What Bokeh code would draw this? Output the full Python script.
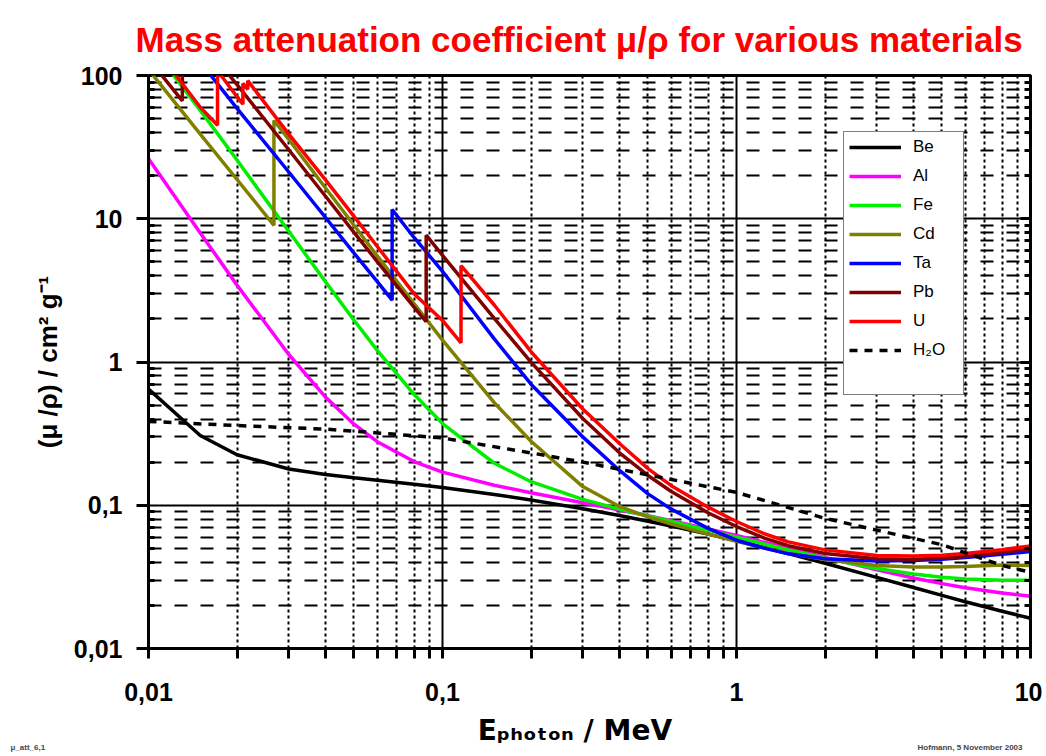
from bokeh.plotting import figure
from bokeh.models import FixedTicker, LogAxis, Legend, LegendItem, Title
from bokeh.embed import file_html
from bokeh.resources import INLINE

# ---------------- data ----------------
energy_grid = [0.01, 0.015, 0.02, 0.03, 0.04, 0.05, 0.06, 0.08, 0.1, 0.15, 0.2, 0.3,
               0.4, 0.5, 0.6, 0.8, 1.0, 1.25, 1.5, 2.0, 3.0, 4.0, 5.0, 6.0, 8.0, 10.0]

mu_be = [0.6466, 0.307, 0.2251, 0.1792, 0.164, 0.1554, 0.1493, 0.1401, 0.1328, 0.119, 0.1089,
         0.09463, 0.08471, 0.07739, 0.07155, 0.06286, 0.05647, 0.05054, 0.04597, 0.03938,
         0.03138, 0.02664, 0.02347, 0.02121, 0.01819, 0.01627]

mu_al = [26.23, 7.955, 3.441, 1.128, 0.5685, 0.3681, 0.2778, 0.2018, 0.1704, 0.1378, 0.1223,
         0.1042, 0.09276, 0.08445, 0.07802, 0.06841, 0.06146, 0.05496, 0.05006, 0.04324,
         0.03541, 0.03106, 0.02836, 0.02655, 0.02437, 0.02318]

mu_fe = [170.6, 57.08, 25.68, 8.176, 3.629, 1.958, 1.205, 0.5952, 0.3717, 0.1964, 0.146,
         0.1099, 0.094, 0.08414, 0.07704, 0.06699, 0.05995, 0.0535, 0.04883, 0.04265,
         0.03621, 0.03312, 0.03146, 0.03057, 0.02991, 0.02994]

energy_cd = [0.01, 0.015, 0.02, 0.02671, 0.02671, 0.03, 0.04, 0.05, 0.06, 0.08, 0.1, 0.15, 0.2,
             0.3, 0.4, 0.5, 0.6, 0.8, 1.0, 1.25, 1.5, 2.0, 3.0, 4.0, 5.0, 6.0, 8.0, 10.0]
mu_cd = [110.0, 39.0, 18.8, 9.0, 48.5, 35.8, 16.4, 9.0, 5.5, 2.56, 1.42, 0.52, 0.28,
         0.135, 0.098, 0.083, 0.074, 0.063, 0.056, 0.0503, 0.0462, 0.0418, 0.038, 0.0371,
         0.037, 0.0373, 0.0382, 0.038]

energy_ta = [0.01, 0.015, 0.02, 0.03, 0.04, 0.05, 0.06, 0.0674, 0.0674, 0.08, 0.1, 0.15, 0.2,
             0.3, 0.4, 0.5, 0.6, 0.8, 1.0, 1.25, 1.5, 2.0, 3.0, 4.0, 5.0, 6.0, 8.0, 10.0]
mu_ta = [190.0, 124.0, 59.0, 21.2, 10.2, 5.76, 3.64, 2.7, 11.6, 7.4, 4.3, 1.45, 0.7,
         0.30, 0.175, 0.12, 0.094, 0.069, 0.057, 0.05, 0.0458, 0.0423, 0.0408, 0.0412,
         0.042, 0.0432, 0.0455, 0.0475]

energy_pb = [0.01, 0.013035, 0.013035, 0.015, 0.0152, 0.0152, 0.01586, 0.01586, 0.02, 0.03,
             0.04, 0.05, 0.06, 0.08, 0.088, 0.088, 0.1, 0.15, 0.2, 0.3, 0.4, 0.5, 0.6, 0.8,
             1.0, 1.25, 1.5, 2.0, 3.0, 4.0, 5.0, 6.0, 8.0, 10.0]
mu_pb = [130.6, 66.6, 162.0, 111.6, 107.8, 148.5, 134.4, 153.6, 86.36, 30.32,
         14.36, 8.041, 5.021, 2.419, 1.91, 7.683, 5.549, 2.014, 0.9985, 0.4031, 0.2323,
         0.1614, 0.1248, 0.0887, 0.07102, 0.05876, 0.05222, 0.04606, 0.04234, 0.04197,
         0.04272, 0.04391, 0.04675, 0.04972]

energy_u = [0.01, 0.015, 0.01717, 0.01717, 0.02, 0.02095, 0.02095, 0.02176, 0.02176, 0.03,
            0.04, 0.05, 0.06, 0.08, 0.1, 0.1156, 0.1156, 0.15, 0.2, 0.3, 0.4, 0.5, 0.6, 0.8,
            1.0, 1.25, 1.5, 2.0, 3.0, 4.0, 5.0, 6.0, 8.0, 10.0]
mu_u = [179.0, 60.0, 45.0, 108.0, 71.0, 63.0, 88.0, 80.0, 92.0, 39.0,
        18.7, 10.4, 6.4, 3.0, 1.95, 1.36, 4.7, 2.5, 1.18, 0.47, 0.27, 0.18, 0.137, 0.097,
        0.077, 0.063, 0.0555, 0.0488, 0.0446, 0.0442, 0.0448, 0.046, 0.0489, 0.052]

energy_h2o = [0.01, 0.02, 0.04, 0.06, 0.1, 0.2, 0.3, 0.5, 1.0, 2.0, 3.0, 5.0, 8.0, 10.0]
mu_h2o = [0.385, 0.36, 0.34, 0.32, 0.295, 0.232, 0.2, 0.163, 0.123, 0.081, 0.067, 0.053,
          0.038, 0.034]

major_ticks = [0.01, 0.1, 1, 10, 100]
major_labels = ["0,01", "0,1", "1", "10", "100"]

# ---------------- figure ----------------
FONT = "Liberation Sans"

p = figure(width=1042, height=752, x_axis_type="log", y_axis_type="log",
           x_range=(0.01, 10), y_range=(0.01, 100),
           output_backend="svg", toolbar_location=None,
           min_border_left=148, min_border_right=12, min_border_top=75, min_border_bottom=104)

p.title.text = "Mass attenuation coefficient \u03bc/\u03c1 for various materials"
p.title.text_color = "#ff0000"
p.title.text_font = FONT
p.title.text_font_size = "35px"
p.title.text_font_style = "bold"
p.title.align = "left"
p.title.offset = -13
p.title.standoff = 34

p.outline_line_color = "black"
p.outline_line_width = 3
p.background_fill_color = "white"
p.border_fill_color = "white"

minor_x = [m * 10.0 ** k for k in range(-2, 1) for m in range(2, 10)]
minor_y = [m * 10.0 ** k for k in range(-2, 2) for m in range(2, 10)]
xt = FixedTicker(ticks=major_ticks[:-1], minor_ticks=minor_x)
yt = FixedTicker(ticks=major_ticks, minor_ticks=minor_y)

overrides = {t: l for t, l in zip(major_ticks, major_labels)}

xa = p.xaxis[0]
xa.ticker = xt
xa.major_label_overrides = overrides
ya = p.yaxis[0]
ya.ticker = yt
ya.major_label_overrides = overrides

for ax in (xa, ya):
    ax.axis_line_width = 3
    ax.axis_line_color = "black"
    ax.major_tick_line_width = 3
    ax.minor_tick_line_width = 3
    ax.major_label_text_font = FONT
    ax.major_label_text_font_style = "bold"
    ax.major_label_text_font_size = "25px"
    ax.major_label_text_color = "black"
    ax.axis_label_text_font_style = "bold"
    ax.axis_label_text_color = "black"

xa.major_tick_out = 10
xa.major_tick_in = 0
xa.minor_tick_out = 10
xa.minor_tick_in = 0
xa.major_label_standoff = 24
xa.axis_label = "E\u209a\u2095\u2092\u209c\u2092\u2099 / MeV\u00a0\u00a0\u00a0"
xa.axis_label_text_font = "DejaVu Sans"
xa.axis_label_text_font_size = "28px"
xa.axis_label_standoff = 10

ya.major_tick_out = 12
ya.major_tick_in = 0
ya.minor_tick_out = 0
ya.minor_tick_in = 6
ya.major_label_standoff = 14
ya.axis_label = "(\u03bc /\u03c1) / cm\u00b2 g\u207b\u00b9"
ya.axis_label_text_font = FONT
ya.axis_label_text_font_size = "26px"
ya.axis_label_standoff = 8

ra = LogAxis(ticker=FixedTicker(ticks=major_ticks, minor_ticks=minor_y),
             major_label_text_font_size="2px", major_label_text_alpha=0.0,
             major_label_standoff=0, axis_line_width=3,
             major_tick_in=10, major_tick_out=0, minor_tick_in=6, minor_tick_out=0,
             major_tick_line_width=3, minor_tick_line_width=3)
p.add_layout(ra, "right")

# grids
p.xgrid.ticker = xt
p.ygrid.ticker = yt
for g in (p.xgrid[0], p.ygrid[0]):
    g.grid_line_color = "black"
    g.grid_line_width = 2
    g.grid_line_alpha = 1.0
    g.minor_grid_line_color = "black"
    g.minor_grid_line_width = 2
p.xgrid[0].minor_grid_line_dash = "3 3"
p.ygrid[0].minor_grid_line_dash = "13 13"

# ---------------- lines ----------------
series = [
    ("Be", energy_grid, mu_be, "#000000", "solid"),
    ("Al", energy_grid, mu_al, "#ff00ff", "solid"),
    ("Fe", energy_grid, mu_fe, "#00ee00", "solid"),
    ("Cd", energy_cd, mu_cd, "#808000", "solid"),
    ("Ta", energy_ta, mu_ta, "#0000ff", "solid"),
    ("Pb", energy_pb, mu_pb, "#800000", "solid"),
    ("U", energy_u, mu_u, "#ff0000", "solid"),
    ("H\u2082O", energy_h2o, mu_h2o, "#000000", "8 7"),
]

items = []
for name, xs, ys, col, dash in series:
    r = p.line(xs, ys, line_color=col, line_width=3.5, line_dash=dash)
    items.append(LegendItem(label=name, renderers=[r]))

# blank row keeps the empty space at the bottom of the legend box
blank = p.line(energy_h2o, mu_h2o, line_alpha=0.0)
items.append(LegendItem(label=" ", renderers=[blank]))

legend = Legend(items=items, location=(695, 253))
legend.label_text_font = FONT
legend.label_text_font_size = "17px"
legend.label_text_color = "black"
legend.glyph_width = 52
legend.label_standoff = 12
legend.label_width = 45
legend.spacing = 9
legend.padding = 5
legend.margin = 0
legend.border_line_color = "black"
legend.border_line_width = 1
legend.background_fill_color = "white"
legend.background_fill_alpha = 1.0
p.add_layout(legend, "center")

# ---------------- footnotes ----------------
foot_left = Title(text="\u03bc_att_6,1", align="left", offset=-138, standoff=-14,
                  vertical_align="top",
                  text_font=FONT, text_font_style="bold", text_font_size="8px")
foot_right = Title(text="Hofmann, 5 November 2003", align="right", offset=8, standoff=-14,
                   vertical_align="top",
                   text_font=FONT, text_font_style="bold", text_font_size="8px")
p.add_layout(foot_left, "below")
p.add_layout(foot_right, "below")

open("out.html", "w").write(file_html(p, INLINE))
